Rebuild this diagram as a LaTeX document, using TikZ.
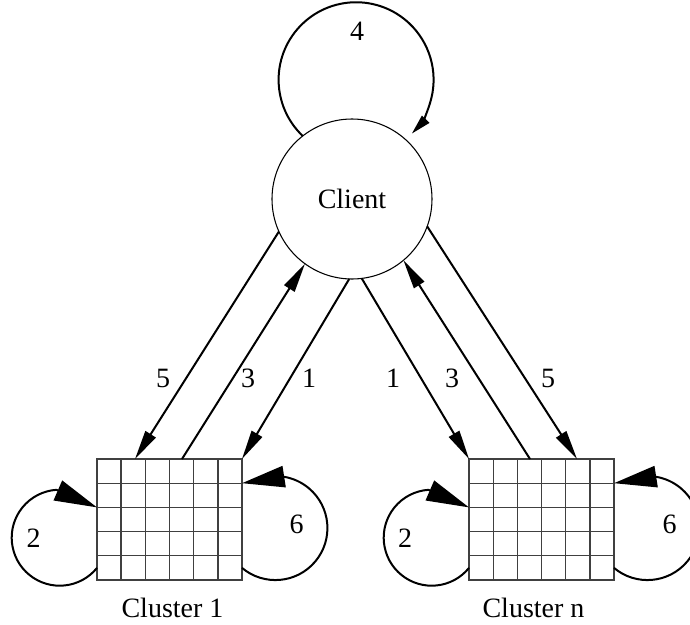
\documentclass[tikz,border=0pt]{standalone}
\usepackage{fontspec}
\setmainfont{Liberation Serif}
\usetikzlibrary{arrows.meta,calc}
\begin{document}
\begin{tikzpicture}[x=0.75pt,y=-0.75pt,
  lbl/.style={font=\fontsize{21}{25}\selectfont, inner sep=0pt},
  flow/.style={line width=1.5pt, -{Triangle[length=22pt,width=9pt]}},
  smallloop/.style={line width=1.5pt, -{Triangle[length=32pt,width=16pt]}},
  bigloop/.style={line width=1.5pt, -{Triangle[length=15pt,width=7.5pt]}},
  cluster/.style={draw=black!75, line width=1pt, minimum width=108.75pt, minimum height=90.75pt, inner sep=0pt, outer sep=0pt},
  gridline/.style={draw=black!75, line width=1pt},
  clientnode/.style={circle, draw, line width=0.8pt, minimum size=120pt, inner sep=0pt, outer sep=0pt, font=\fontsize{21}{25}\selectfont}
]
\useasboundingbox (0,0) rectangle (690,625);
\clip (0,0) rectangle (690,625);

% nodes
\node[clientnode] (client) at (352,199) {Client};
\node[cluster] (c1) at (169.5,519.5) {};
\node[cluster] (cn) at (541.5,519.5) {};

% grids
\foreach \c in {c1,cn}{
  \foreach \i in {1,...,5}
    \draw[gridline] ($(\c.north west)!\i/6!(\c.north east)$) -- ($(\c.south west)!\i/6!(\c.south east)$);
  \foreach \j in {1,...,4}
    \draw[gridline] ($(\c.north west)!\j/5!(\c.south west)$) -- ($(\c.north east)!\j/5!(\c.south east)$);
}

% attachment points on the grid tops
\coordinate (c1a) at ($(c1.north west)!38/145!(c1.north east)$);
\coordinate (c1b) at ($(c1.north west)!85/145!(c1.north east)$);
\coordinate (cna) at ($(cn.north west)!61/145!(cn.north east)$);
\coordinate (cnb) at ($(cn.north west)!108/145!(cn.north east)$);

% connectors client <-> clusters
\draw[flow] (client.204) -- (c1a);
\draw[flow] (c1b) -- (client.234);
\draw[flow] (client.268) -- (c1.north east);
\draw[flow] (client.277) -- (cn.north west);
\draw[flow] (cna) -- (client.310);
\draw[flow] (client.340) -- (cnb);

% self loops
\draw[bigloop] (client.128) arc[start angle=133.5, end angle=404, radius=77.5];

\draw[smallloop] ($(c1.south west)!0.1!(c1.north west)$) arc[start angle=39, end angle=266, radius=48]
  -- ($(c1.north west)!0.4!(c1.south west)$);
\draw[smallloop] ($(c1.south east)!0.1!(c1.north east)$) arc[start angle=130, end angle=-81, radius=52]
  -- ($(c1.north east)!0.2!(c1.south east)$);
\draw[smallloop] ($(cn.south west)!0.1!(cn.north west)$) arc[start angle=39, end angle=266, radius=48]
  -- ($(cn.north west)!0.4!(cn.south west)$);
\draw[smallloop] ($(cn.south east)!0.1!(cn.north east)$) arc[start angle=130, end angle=-81, radius=52]
  -- ($(cn.north east)!0.2!(cn.south east)$);

% labels
\node[lbl] (l4) at (357,31) {4};
\node[lbl] (l2a) at (33.5,538.5) {2};
\node[lbl] (l6a) at (296.5,524.5) {6};
\node[lbl] (l2b) at (405,538) {2};
\node[lbl] (l6b) at (669.5,524.5) {6};

\node[lbl] (l5a) at (163,378) {5};
\node[lbl] (l3a) at (248,378) {3};
\node[lbl] (l1a) at (309,378) {1};
\node[lbl] (l1b) at (393,378) {1};
\node[lbl] (l3b) at (452,378) {3};
\node[lbl] (l5b) at (548,378) {5};

\node[lbl, anchor=base] (t1) at (172.5,617) {Cluster 1};
\node[lbl, anchor=base] (tn) at (533.5,617) {Cluster n};
\end{tikzpicture}
\end{document}
